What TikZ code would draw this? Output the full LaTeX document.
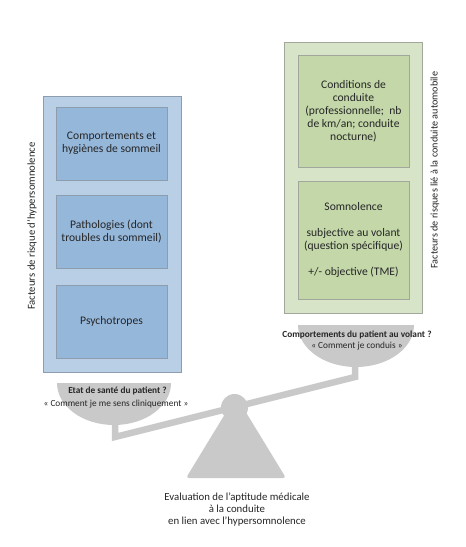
\documentclass[tikz,border=0pt]{standalone}
\usepackage{fontspec}
\setmainfont{Carlito}
\definecolor{blueout}{HTML}{B9CFE5}
\definecolor{bluein}{HTML}{95B7DA}
\definecolor{blueline}{HTML}{8E9DAE}
\definecolor{greenout}{HTML}{D8E4C8}
\definecolor{greenin}{HTML}{C3D7A9}
\definecolor{greenline}{HTML}{A2A79E}
\definecolor{scalegray}{HTML}{C9C9C9}
\definecolor{txt}{HTML}{262626}
\begin{document}
\begin{tikzpicture}[x=1pt,y=-1pt,
  boxbase/.style={inner sep=0pt, outer sep=0pt, line width=0.9pt, align=center,
    text=txt, font=\fontsize{11.6}{13}\selectfont},
  outerblue/.style={boxbase, draw=blueline, fill=blueout, minimum width=138pt},
  innerblue/.style={boxbase, draw=blueline, fill=bluein, minimum width=111pt, minimum height=73pt},
  outergreen/.style={boxbase, draw=greenline, fill=greenout, minimum width=138pt},
  innergreen/.style={boxbase, draw=greenline, fill=greenin, minimum width=111pt},
  sidelabel/.style={rotate=90, text=txt, font=\fontsize{10.7}{12}\selectfont},
  panlabel/.style={align=center, text=txt, inner sep=0pt, font=\fontsize{9.3}{11}\selectfont},
  scalepart/.style={fill=scalegray, draw=none}
]
\useasboundingbox (0,0) rectangle (466,547);
\fill[white] (0,0) rectangle (466,547);

% left group
\node[outerblue, minimum height=276pt] (lo) at (112,234) {};
\node[innerblue] (l1) at (111.5,143.5) {Comportements et\\hygiènes de sommeil};
\node[innerblue] (l2) at (111.5,231.5) {Pathologies (dont\\troubles du sommeil)};
\node[innerblue] (l3) at (111.5,321.5) {Psychotropes};
\node[sidelabel] (llab) at (32,226) {Facteurs de risque d’hypersomnolence};

% right group
\node[outergreen, minimum height=271pt] (ro) at (353,177.5) {};
\node[innergreen, minimum height=112pt] (r1) at (353.5,111.5) {Conditions de\\conduite\\(professionnelle;~ nb\\de km/an; conduite\\nocturne)};
\node[innergreen, minimum height=118pt] (r2) at (353.5,240) {Somnolence\\[13pt]subjective au volant\\(question spécifique)\\[13pt]+/- objective (TME)};
\node[sidelabel, font=\fontsize{10.2}{12}\selectfont] (rlab) at (435,170) {Facteurs de risques lié à la conduite automobile};

% scale
\fill[scalepart] (57,383) arc[start angle=180, end angle=0, x radius=57, y radius=42] -- cycle;
\fill[scalepart] (298,325) arc[start angle=180, end angle=0, x radius=58, y radius=42] -- cycle;
\draw[scalegray, line width=6.5pt, line join=miter] (115,415) -- (115,437) -- (355,377) -- (355,360);
\fill[scalepart, rounded corners=3pt] (236,396) -- (286,478) -- (186,478) -- cycle;
\fill[scalepart] (234.5,407.5) circle[radius=13.5pt];

% pan labels
\node[panlabel] (lp1) at (117.5,391) {\textbf{Etat de santé du patient ?}};
\node[panlabel] (lp2) at (116,404) {« Comment je me sens cliniquement »};
\node[panlabel] (rp1) at (357,335) {\textbf{Comportements du patient au volant ?}};
\node[panlabel] (rp2) at (357,346) {« Comment je conduis »};

% bottom caption
\node[align=center, text=txt, font=\fontsize{10.8}{12}\selectfont] (cap) at (237,510)
  {Evaluation de l’aptitude médicale\\à la conduite\\en lien avec l’hypersomnolence};
\end{tikzpicture}
\end{document}
